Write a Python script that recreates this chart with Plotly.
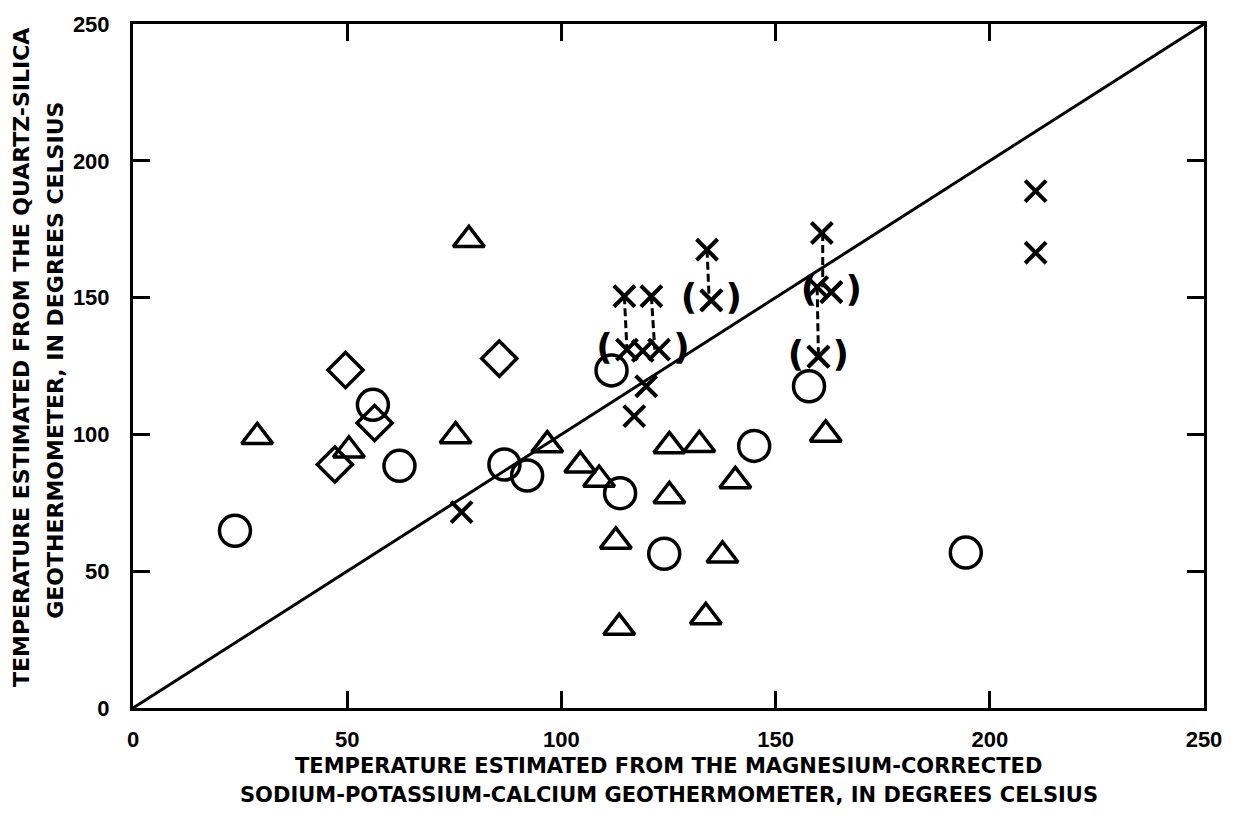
import plotly.graph_objects as go

# ---- data ----
circle_x = [23.8, 56.0, 62.2, 86.7, 92.0, 111.7, 113.7, 124.0, 145.0, 157.8, 194.4]
circle_y = [64.8, 110.8, 88.5, 89.0, 85.0, 123.4, 78.5, 56.4, 95.8, 117.6, 56.8]

tri_x = [29.0, 50.4, 75.3, 78.4, 96.7, 104.4, 108.8, 112.7, 113.5, 125.2, 125.2, 132.2, 133.7, 137.6, 140.6, 161.7]
tri_y = [99.1, 94.2, 99.4, 171.1, 96.1, 88.7, 83.5, 60.9, 29.4, 95.8, 77.5, 96.2, 33.3, 55.8, 83.0, 100.0]

dia_x = [47.1, 49.6, 56.4, 85.5]
dia_y = [89.0, 123.5, 104.2, 127.7]

cross_x = [76.7, 114.7, 121.0, 134.0, 160.8, 159.7, 119.8, 117.0, 210.7, 210.7, 119.0]
cross_y = [71.6, 150.5, 150.5, 167.5, 173.6, 153.8, 117.6, 106.7, 188.9, 166.4, 130.5]

# parenthesised crosses: left "(" and right ")" marks
paren_left_x = [115.3, 135.0, 163.0, 160.0]
paren_left_y = [131.0, 149.0, 152.0, 128.4]
paren_right_x = [122.8, 135.0, 163.0, 160.0]
paren_right_y = [131.0, 149.0, 152.0, 128.4]

dash_x = [114.7, 115.3, None, 121.0, 121.8, None, 134.0, 134.5, None, 161.0, 161.0, None, 159.7, 160.0]
dash_y = [150.5, 131.0, None, 150.5, 131.0, None, 167.5, 149.0, None, 173.6, 153.8, None, 153.8, 128.4]

line_x = [0, 250]
line_y = [0, 250]

ticks = [0, 50, 100, 150, 200, 250]
tick_text = ["0", "50", "100", "150", "200", "250"]

x_title = ["TEMPERATURE ESTIMATED FROM THE MAGNESIUM-CORRECTED",
           "SODIUM-POTASSIUM-CALCIUM GEOTHERMOMETER, IN DEGREES CELSIUS"]
y_title = ["TEMPERATURE ESTIMATED FROM THE QUARTZ-SILICA",
           "GEOTHERMOMETER, IN DEGREES CELSIUS"]

# ---- figure ----
fig = go.Figure()

fig.add_trace(go.Scatter(x=line_x, y=line_y, mode="lines",
                         line=dict(color="black", width=3), hoverinfo="skip"))

fig.add_trace(go.Scatter(x=dash_x, y=dash_y, mode="lines",
                         line=dict(color="black", width=3, dash="8px,4px"),
                         hoverinfo="skip"))

fig.add_trace(go.Scatter(x=circle_x, y=circle_y, mode="markers",
                         marker=dict(symbol="circle-open", size=31, color="black",
                                     line=dict(width=3.5, color="black"))))

fig.add_trace(go.Scatter(x=tri_x, y=tri_y, mode="markers",
                         marker=dict(symbol="triangle-up-open", size=27, color="black",
                                     line=dict(width=3.5, color="black"))))

fig.add_trace(go.Scatter(x=dia_x, y=dia_y, mode="markers",
                         marker=dict(symbol="diamond-open", size=27, color="black",
                                     line=dict(width=3.5, color="black"))))

fig.add_trace(go.Scatter(x=cross_x, y=cross_y, mode="markers",
                         marker=dict(symbol="x-thin-open", size=21, color="black",
                                     line=dict(width=4, color="black"))))

paren_font = dict(family="DejaVu Sans", size=36, color="black", weight="bold")
xmark = dict(symbol="x-thin-open", size=21, color="black",
             line=dict(width=4, color="black"))
fig.add_trace(go.Scatter(x=paren_left_x, y=paren_left_y, mode="markers+text",
                         text=["("] * len(paren_left_x), textposition="middle left",
                         textfont=paren_font, marker=xmark))
fig.add_trace(go.Scatter(x=paren_right_x, y=paren_right_y, mode="markers+text",
                         text=[")"] * len(paren_right_x), textposition="middle right",
                         textfont=paren_font, marker=xmark))

axis_common = dict(range=[0, 250], tickvals=ticks, ticktext=tick_text,
                   ticks="inside", ticklen=17, tickwidth=3, tickcolor="black",
                   showline=True, linewidth=3, linecolor="black", mirror="ticks",
                   showgrid=False, zeroline=False,
                   tickfont=dict(family="Liberation Sans", size=22, color="black",
                                 weight="bold"))

fig.update_xaxes(**axis_common, ticklabelstandoff=10)
fig.update_yaxes(**axis_common, ticklabelstandoff=16)

x_font = dict(family="DejaVu Sans", size=21, color="black", weight="bold")
y_font = dict(family="DejaVu Sans", size=22, color="black", weight="bold")
annotations = [
    dict(text=x_title[0], x=0.5, y=-0.0854, xref="paper", yref="paper",
         xanchor="center", yanchor="middle", showarrow=False, font=x_font),
    dict(text=x_title[1], x=0.5, y=-0.127, xref="paper", yref="paper",
         xanchor="center", yanchor="middle", showarrow=False, font=x_font),
    dict(text=y_title[0], x=-0.1034, y=0.512, xref="paper", yref="paper",
         xanchor="center", yanchor="middle", showarrow=False, font=y_font,
         textangle=-90),
    dict(text=y_title[1], x=-0.0726, y=0.508, xref="paper", yref="paper",
         xanchor="center", yanchor="middle", showarrow=False, font=y_font,
         textangle=-90),
]

fig.update_layout(width=1234, height=813,
                  margin=dict(l=133, r=27, t=17, b=105),
                  paper_bgcolor="white", plot_bgcolor="white",
                  showlegend=False, annotations=annotations)

fig.write_html("out.html")
